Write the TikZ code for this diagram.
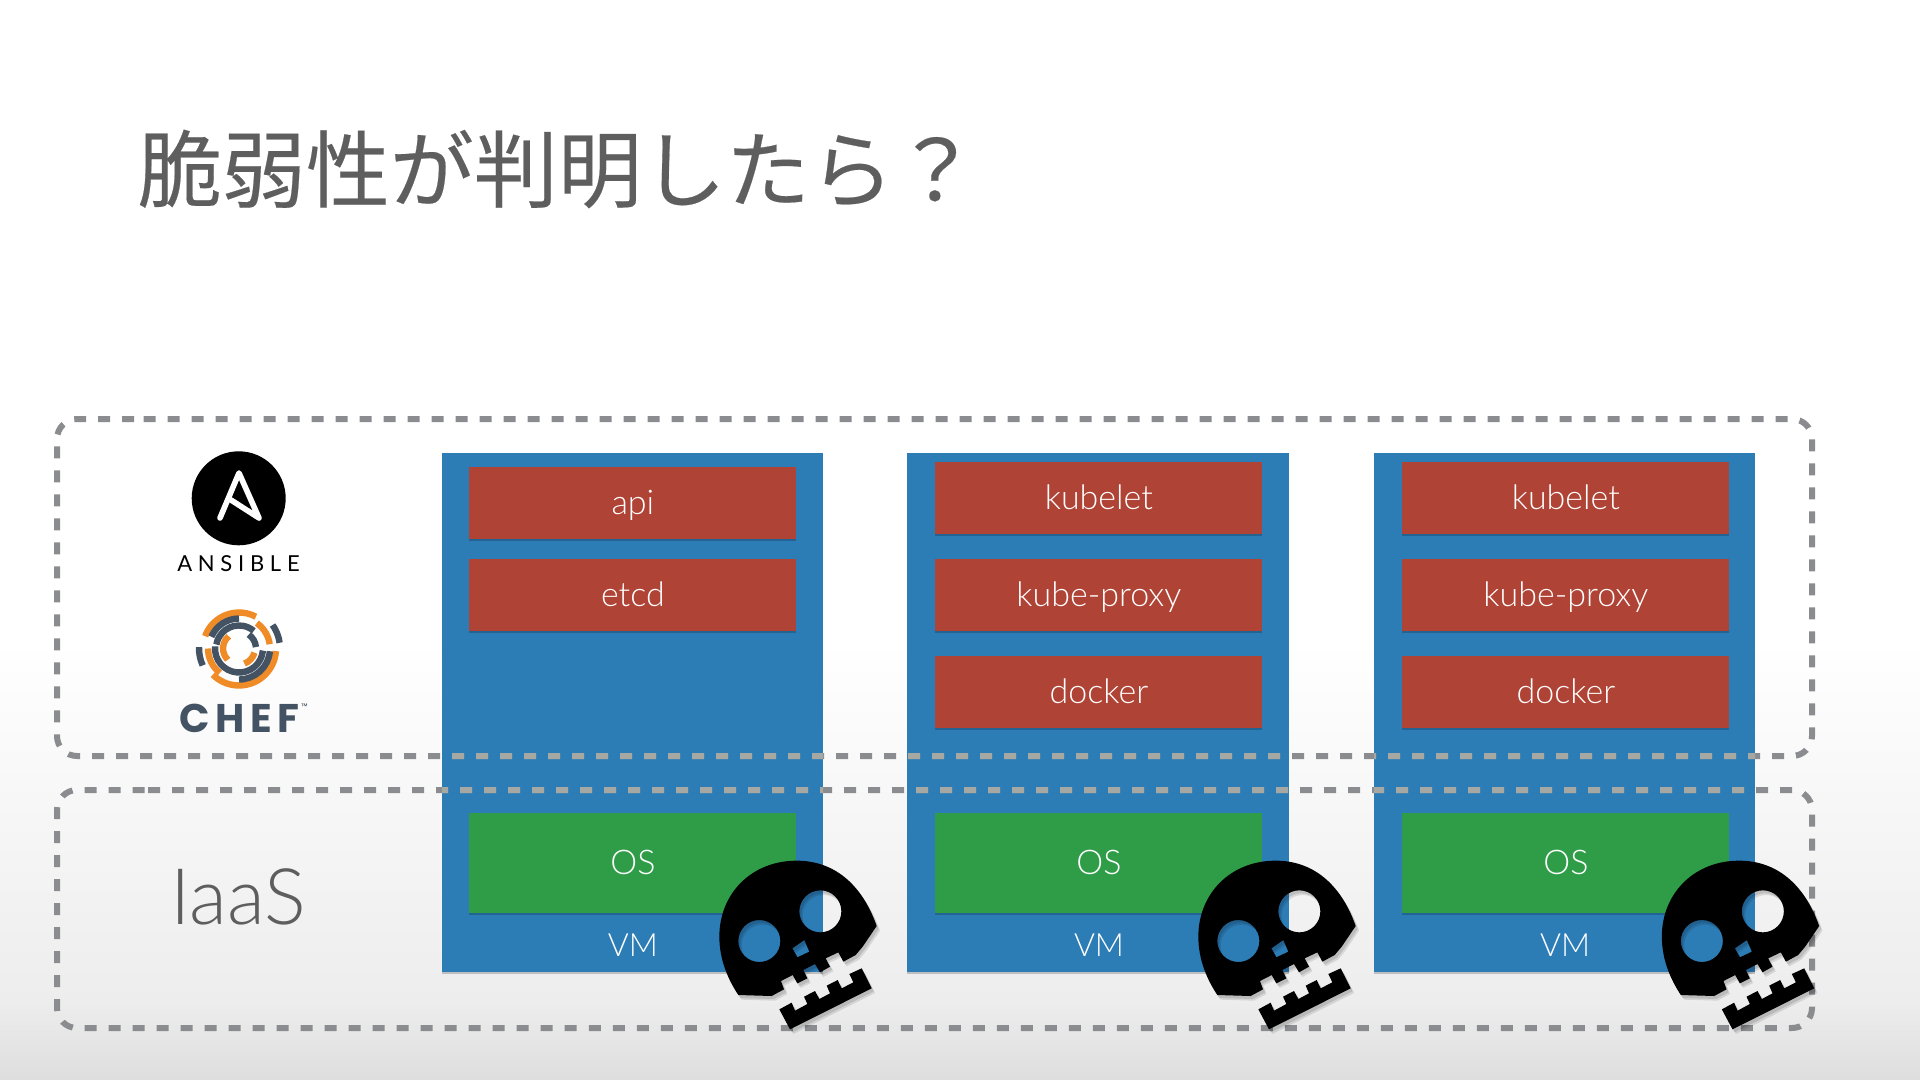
\documentclass[tikz,border=0pt]{standalone}
\usepackage{fontspec}
\usetikzlibrary{shadows}
\newfontfamily\cjkfont[FakeBold=0.25]{Noto Sans CJK JP}
\newfontfamily\lightfont{Lato Light}
\newfontfamily\chefont[LetterSpace=14]{Poppins}
\newfontfamily\ansfont[LetterSpace=26]{Lato}
\definecolor{vmblue}{HTML}{2C7CB6}
\definecolor{svcred}{HTML}{AF4335}
\definecolor{osgreen}{HTML}{2F9D47}
\definecolor{dashgray}{HTML}{8A8C90}
\definecolor{dashlight}{HTML}{A6A8A4}
\definecolor{titlegray}{HTML}{5E5E5E}
\definecolor{chefdark}{HTML}{435363}
\definecolor{cheforange}{HTML}{F08C28}
\newcommand{\skullbody}{(175,645) -- (275,648) -- (312,628) -- (303,603) -- (338,585) -- (352,610) -- (382,595) -- (370,570) -- (405,552) -- (420,577) -- (450,560) -- (437,535) -- (475,517) -- (490,545) -- (527,525) -- (548,500) -- (590,438) .. controls (545,310) and (460,242) .. (350,242) .. controls (215,242) and (118,340) .. (118,470) .. controls (118,540) and (145,600) .. (175,645) -- cycle
 (238,483) circle[radius=63] (421,394) circle[radius=63]
 (337,505) -- (373,480) -- (388,515) -- (352,532) -- cycle
 (298,688) -- (335,668) -- (345,692) -- (382,672) -- (372,650) -- (405,633) -- (418,657) -- (450,640) -- (440,617) -- (473,600) -- (485,625) -- (520,607) -- (508,582) -- (545,565) -- (575,625) -- (330,748) -- cycle}
\newcommand{\zoneone}{(123.7,419) -- (1812,419) -- (1812,756) -- (57,756) -- (57,419) -- cycle}
\newcommand{\zonetwo}{(128,790) -- (1812,790) -- (1812,1028) -- (57,1028) -- (57,790) -- cycle}
\tikzset{
  boxshadow/.style={drop shadow={shadow xshift=0pt,shadow yshift=-0.6pt,opacity=.2,fill=black}},
  vmbox/.style={fill=vmblue,minimum width=381*0.5pt,minimum height=519*0.5pt,inner sep=0pt,anchor=north west,boxshadow},
  boxtext/.style={text=white,font=\lightfont\fontsize{17}{18}\selectfont,text height=11.4pt,text depth=0pt},
  svcbox/.style={fill=svcred,boxtext,minimum width=327*0.5pt,minimum height=72*0.5pt,inner sep=0pt,anchor=north west,boxshadow},
  osbox/.style={fill=osgreen,boxtext,minimum width=327*0.5pt,minimum height=100*0.5pt,inner sep=0pt,anchor=north west,boxshadow},
  vmlabel/.style={text=white,font=\lightfont\fontsize{16}{18}\selectfont,inner sep=0pt,anchor=base},
  zone/.style={draw=dashgray,line width=3pt,dash pattern=on 6pt off 6pt,rounded corners=10pt},
  zonelight/.style={draw=dashlight,line width=3pt,dash pattern=on 6pt off 6pt,rounded corners=10pt},
  chefo/.style={cheforange,line width=3.2pt},
  chefd/.style={chefdark,line width=3.2pt},
  skull/.pic={
    \begin{scope}[x=0.16667pt,y=-0.16667pt]
      \fill[black,opacity=.10,even odd rule,shift={(10,14)}] \skullbody;
      \fill[black,opacity=.12,even odd rule,shift={(6,9)}] \skullbody;
      \fill[black,even odd rule] \skullbody;
    \end{scope}}
}
\begin{document}
\begin{tikzpicture}[x=0.5pt,y=-0.5pt]
\useasboundingbox (0,0) rectangle (1920,1080);
\fill[white] (0,0) rectangle (1920,640);
\fill[top color=white,bottom color=white!93!black,shading angle=0] (0,640) rectangle (1920,1000);
\fill[top color=white!93!black,bottom color=white!87!black] (0,1000) rectangle (1920,1080);

\node[anchor=west,text=titlegray,inner sep=0pt,font=\cjkfont\fontsize{42}{46}\selectfont] (title) at (137.5,169) {脆弱性が判明したら？};

\node[vmbox] (vma) at (442,453) {};
\node[vmbox,minimum width=382*0.5pt] (vmb) at (907,453) {};
\node[vmbox] (vmc) at (1374,453) {};

\node[svcbox] (api) at (469,467) {api};
\node[svcbox] (etcd) at (469,559) {etcd};
\node[svcbox] (kla) at (935,462) {kubelet};
\node[svcbox] (kpa) at (935,559) {kube-proxy};
\node[svcbox] (dka) at (935,656) {docker};
\node[svcbox] (klb) at (1402,462) {kubelet};
\node[svcbox] (kpb) at (1402,559) {kube-proxy};
\node[svcbox] (dkb) at (1402,656) {docker};
\node[osbox] (osa) at (469,813) {OS};
\node[osbox] (osb) at (935,813) {OS};
\node[osbox] (osc) at (1402,813) {OS};
\node[vmlabel] (vla) at (633,956) {VM};
\node[vmlabel] (vlb) at (1099,956) {VM};
\node[vmlabel] (vlc) at (1565,956) {VM};

\draw[zone] \zoneone;
\draw[zone] \zonetwo;
\begin{scope}
  \clip (442,453) rectangle (823,972) (907,453) rectangle (1289,972) (1374,453) rectangle (1755,972);
  \draw[zonelight] \zoneone;
  \draw[zonelight] \zonetwo;
\end{scope}

\node[text=titlegray,inner sep=0pt,font=\lightfont\fontsize{39}{42}\selectfont] (iaas) at (238,897) {IaaS};

\fill[black] (238.7,498.3) circle[radius=47];
\draw[white,line width=2.8pt,line join=round,line cap=round] (220,518) -- (239,473) -- (259,518) -- (231,500);
\node[inner sep=0pt,font=\ansfont\fontsize{11}{12}\selectfont] (ansible) at (238.5,564) {ANSIBLE};

\begin{scope}[shift={(239,648.5)},x=0.5pt,y=0.5pt,line cap=butt]
  \draw[chefo] (62:36) arc[start angle=62,end angle=160,radius=36];
  \draw[chefo] (-4:37) arc[start angle=-4,end angle=-135,radius=37];
  \draw[chefo] (55:31) arc[start angle=55,end angle=8,radius=31];
  \draw[chefo] (180:31) arc[start angle=180,end angle=232,radius=31];
  \draw[chefo] (130:16) arc[start angle=130,end angle=225,radius=16];
  \draw[chefo] (-70:16) arc[start angle=-70,end angle=-15,radius=16];
  \draw[chefd] (90:30) arc[start angle=90,end angle=157,radius=30];
  \draw[chefd] (35:41) arc[start angle=35,end angle=8,radius=41];
  \draw[chefd] (178:40) arc[start angle=178,end angle=205,radius=40];
  \draw[chefd] (-5:31) arc[start angle=-5,end angle=-90,radius=31];
  \draw[chefd] (175:24) arc[start angle=175,end angle=355,radius=24];
  \draw[chefd] (170:23) arc[start angle=170,end angle=50,radius=23];
  \draw[chefd] (55:17) arc[start angle=55,end angle=5,radius=17];
\end{scope}
\node[inner sep=0pt,text=chefdark,font=\chefont\bfseries\fontsize{20}{22}\selectfont] (chef) at (239.5,718) {CHEF};
\node[inner sep=0pt,text=chefdark,font=\chefont\fontsize{4}{4}\selectfont,anchor=west] (tm) at (301,707) {™};

\pic at (680,780) {skull};
\pic at (1159,780) {skull};
\pic at (1622.5,780) {skull};
\end{tikzpicture}
\end{document}
